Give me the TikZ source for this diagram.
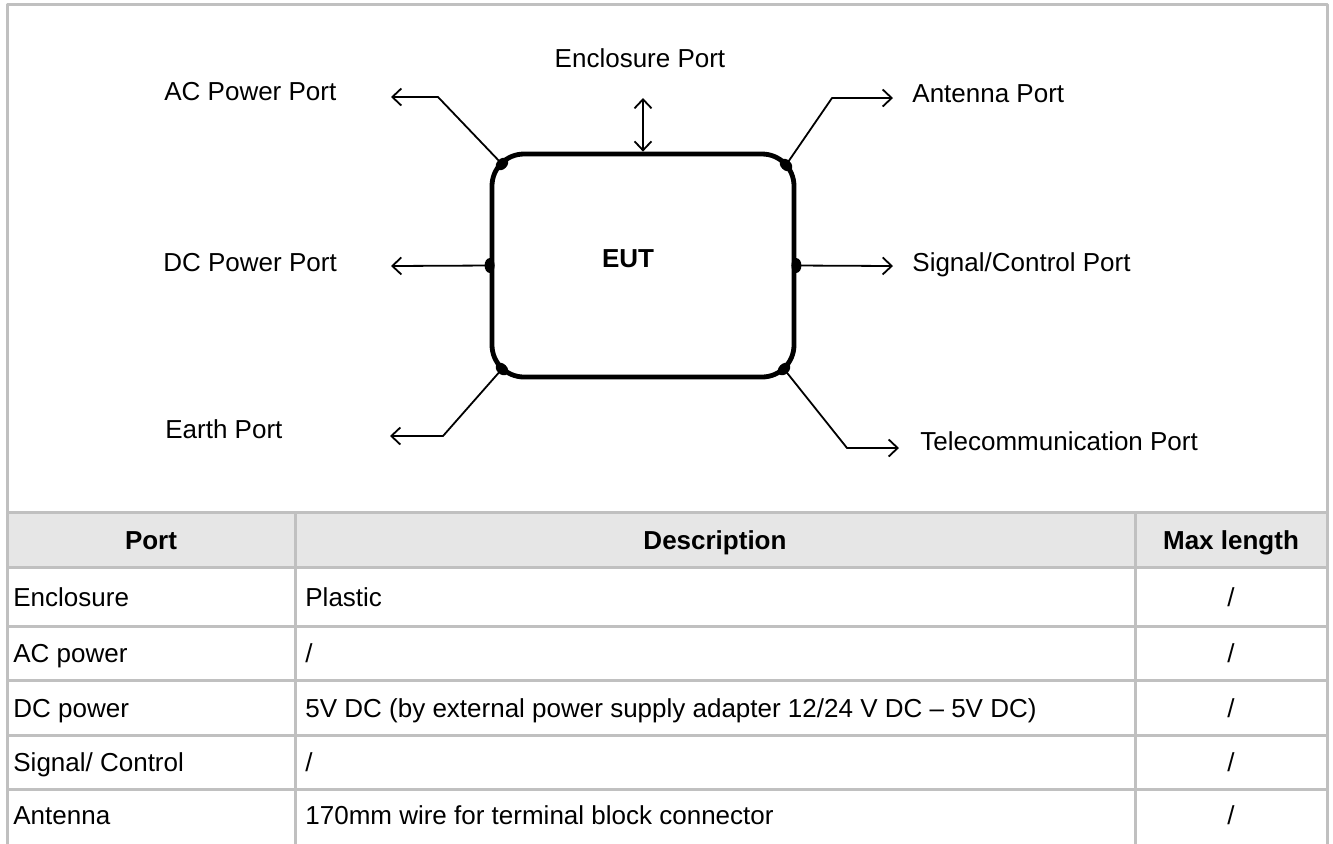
\documentclass[tikz,border=0pt]{standalone}
\usepackage{fontspec}
\setmainfont{Liberation Sans}
\usepackage{xcolor}
\usetikzlibrary{arrows.meta,positioning}
\definecolor{emcGrid}{HTML}{C0C0C0}
\definecolor{emcHead}{HTML}{E6E6E6}
\tikzset{
  emc diagram/.style={x=0.5pt, y=-0.5pt, font=\fontsize{13}{15.6}\selectfont,
    line cap=round, line join=round},
  emc eut/.style={draw, line width=2.4pt, rounded corners=16pt,
    minimum width=151pt, minimum height=111.5pt, inner sep=0pt},
  emc arrow/.style={-{Straight Barb[length=4.5pt,width=8.5pt]}, line width=0.9pt},
  emc both/.style={emc arrow, {Straight Barb[length=4.5pt,width=8.5pt]}-{Straight Barb[length=4.5pt,width=8.5pt]}},
  emc dot/.style={fill=black},
  emc label/.style={anchor=base west, inner sep=0pt},
  emc grid/.style={draw=emcGrid, line width=1.5pt, line cap=rect},
  emc cell/.style={anchor=base west, inner sep=0pt},
  emc mid/.style={anchor=base, inner sep=0pt},
  emc head/.style={emc mid, font=\fontsize{13}{15.6}\selectfont\bfseries}
}
\begin{document}
\begin{tikzpicture}[emc diagram]
\useasboundingbox (0,0) rectangle (1333,843);
% table background and rules
\fill[emcHead] (7,512) rectangle (1327,567);
\foreach \y in {512,567,626,680,735,789}
  \draw[emc grid] (7,\y) -- (1327,\y);
\foreach \x in {295,1135}
  \draw[emc grid] (\x,512) -- (\x,843);
\draw[emc grid] (7,843) -- (7,4) -- (1327,4) -- (1327,843);
% equipment under test
\node[emc eut] (eut) at (643,265.5) {};
\node[font=\fontsize{13}{15.6}\selectfont\bfseries, emc mid] (eutname) at (628,267) {EUT};
\coordinate (pAC) at (502,164);
\coordinate (pAnt) at (786,165);
\coordinate (pEarth) at (502,369);
\coordinate (pTel) at (784,369);
\coordinate (bAC) at (438,97);
\coordinate (eAC) at (391,97);
\coordinate (eEnc) at (643,98);
\coordinate (bAnt) at (832,98);
\coordinate (eAnt) at (893,98);
\coordinate (eDC) at (391,266);
\coordinate (eSig) at (893,266);
\coordinate (bEarth) at (443,436);
\coordinate (eEarth) at (390,436);
\coordinate (bTel) at (847,448);
\coordinate (eTel) at (899,448);
% ports
\draw[emc arrow] (pAC) -- (bAC) -- (eAC);
\draw[emc both] (eut.north) -- (eEnc);
\draw[emc arrow] (pAnt) -- (bAnt) -- (eAnt);
\draw[emc arrow] (eut.west) -- (eDC);
\draw[emc arrow] (eut.east) -- (eSig);
\draw[emc arrow] (pEarth) -- (bEarth) -- (eEarth);
\draw[emc arrow] (pTel) -- (bTel) -- (eTel);
\fill[emc dot, rotate=-45] (pAC) ellipse [x radius=2.6pt, y radius=3.6pt];
\fill[emc dot, rotate=45] (pAnt) ellipse [x radius=2.6pt, y radius=3.6pt];
\fill[emc dot, rotate=45] (pEarth) ellipse [x radius=2.6pt, y radius=3.6pt];
\fill[emc dot, rotate=-45] (pTel) ellipse [x radius=2.6pt, y radius=3.6pt];
\fill[emc dot] (eut.west) ellipse [x radius=2.5pt, y radius=3.7pt];
\fill[emc dot] (eut.east) ellipse [x radius=2.5pt, y radius=3.7pt];
% port labels
\node[emc label] (lAC) at (164,100) {AC Power Port};
\node[emc mid] (lEnc) at (640,67) {Enclosure Port};
\node[emc label] (lAnt) at (912,102) {Antenna Port};
\node[emc label] (lDC) at (163,271) {DC Power Port};
\node[emc label] (lSig) at (912,271) {Signal/Control Port};
\node[emc label] (lEarth) at (165,438) {Earth Port};
\node[emc label] (lTel) at (920,450) {Telecommunication Port};
% table text
\node[emc head] (hPort) at (151,549) {Port};
\node[emc head] (hDesc) at (715,549) {Description};
\node[emc head] (hLen) at (1231,549) {Max length};
\node[emc cell] (port1) at (13,606) {Enclosure};
\node[emc cell] (desc1) at (305,606) {Plastic};
\node[emc mid] (len1) at (1231,606) {/};
\node[emc cell] (port2) at (13,662) {AC power};
\node[emc cell] (desc2) at (305,662) {/};
\node[emc mid] (len2) at (1231,662) {/};
\node[emc cell] (port3) at (13,717) {DC power};
\node[emc cell] (desc3) at (305,717) {5V DC (by external power supply adapter 12/24 V DC – 5V DC)};
\node[emc mid] (len3) at (1231,717) {/};
\node[emc cell] (port4) at (13,771) {Signal/ Control};
\node[emc cell] (desc4) at (305,771) {/};
\node[emc mid] (len4) at (1231,771) {/};
\node[emc cell] (port5) at (13,824) {Antenna};
\node[emc cell] (desc5) at (305,824) {170mm wire for terminal block connector};
\node[emc mid] (len5) at (1231,824) {/};
\end{tikzpicture}
\end{document}
